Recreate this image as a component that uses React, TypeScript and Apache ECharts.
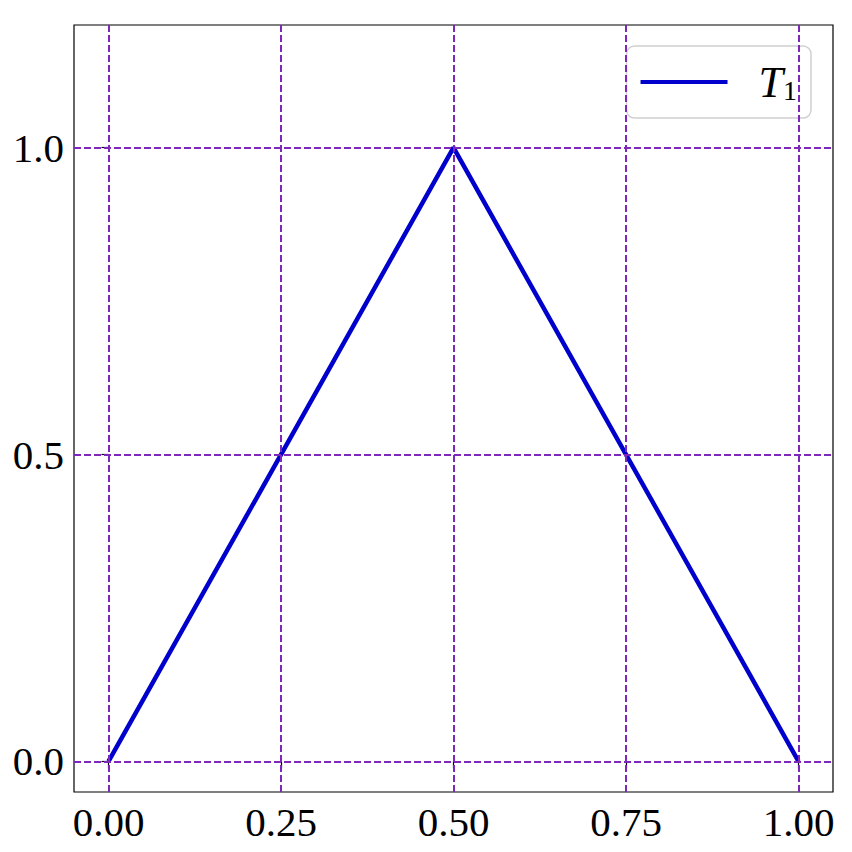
import React, { useEffect, useRef } from "react";
import * as echarts from "echarts";

const xValues = [0, 0.5, 1];
const yValues = [0, 1, 0];
const xTicks = [0, 0.25, 0.5, 0.75, 1];
const yTicks = [0, 0.5, 1];
const seriesName = "T1";

export default function App() {
  const ref = useRef<HTMLDivElement>(null);
  useEffect(() => {
    const chart = echarts.init(ref.current!, null, { renderer: "svg" });
    const font = "Liberation Serif";
    const gridColor = "#7d28bb";
    chart.setOption({
      animation: false,
      backgroundColor: "#fff",
      grid: {
        left: 74,
        right: 19,
        top: 25,
        bottom: 60,
        show: true,
        borderColor: "#000",
        borderWidth: 1.2,
        backgroundColor: "transparent",
      },
      xAxis: {
        type: "value",
        min: -0.05,
        max: 1.05,
        splitLine: { show: false },
        axisLine: { show: false },
        axisTick: {
          show: true,
          customValues: xTicks,
          length: 7,
          lineStyle: { color: "#000", width: 1.2 },
        },
        axisLabel: {
          customValues: xTicks,
          formatter: (v: number) => v.toFixed(2),
          fontFamily: font,
          fontSize: 41,
          color: "#000",
          margin: 9,
        },
      },
      yAxis: {
        type: "value",
        min: -0.05,
        max: 1.2,
        splitLine: { show: false },
        axisLine: { show: false },
        axisTick: {
          show: true,
          customValues: yTicks,
          length: 7,
          lineStyle: { color: "#000", width: 1.2 },
        },
        axisLabel: {
          customValues: yTicks,
          formatter: (v: number) => v.toFixed(1),
          fontFamily: font,
          fontSize: 41,
          color: "#000",
          margin: 10,
        },
      },
      legend: {
        show: true,
        right: 41,
        top: 46,
        orient: "vertical",
        backgroundColor: "#fff",
        borderColor: "#d0d0d0",
        borderWidth: 1.5,
        borderRadius: 8,
        padding: [14, 14, 14, 14],
        itemWidth: 87,
        itemHeight: 4,
        icon: "rect",
        data: [seriesName],
        formatter: () => "{i|T}{s|1}",
        textStyle: {
          padding: [0, 0, 0, 26],
          rich: {
            i: { fontFamily: font, fontStyle: "italic", fontSize: 44, color: "#000" },
            s: { fontFamily: font, fontSize: 28, color: "#000", padding: [16, 0, 0, 0] },
          },
        },
      },
      series: [
        {
          name: "grid",
          type: "line",
          data: [],
          z: 1,
          silent: true,
          markLine: {
            silent: true,
            symbol: "none",
            label: { show: false },
            lineStyle: { color: gridColor, type: [7, 3], width: 2 },
            data: [
              ...xTicks.map((x) => ({ xAxis: x })),
              ...yTicks.map((y) => ({ yAxis: y })),
            ],
          },
        },
        {
          name: seriesName,
          type: "line",
          z: 3,
          data: xValues.map((x, i) => [x, yValues[i]]),
          showSymbol: false,
          symbol: "none",
          lineStyle: { color: "#0000cd", width: 4.5 },
          itemStyle: { color: "#0000cd" },
        },
      ],
    });
    return () => chart.dispose();
  }, []);
  return (
    <div
      ref={ref}
      style={{ position: "fixed", left: 0, top: 0, width: 852, height: 852 }}
    />
  );
}
